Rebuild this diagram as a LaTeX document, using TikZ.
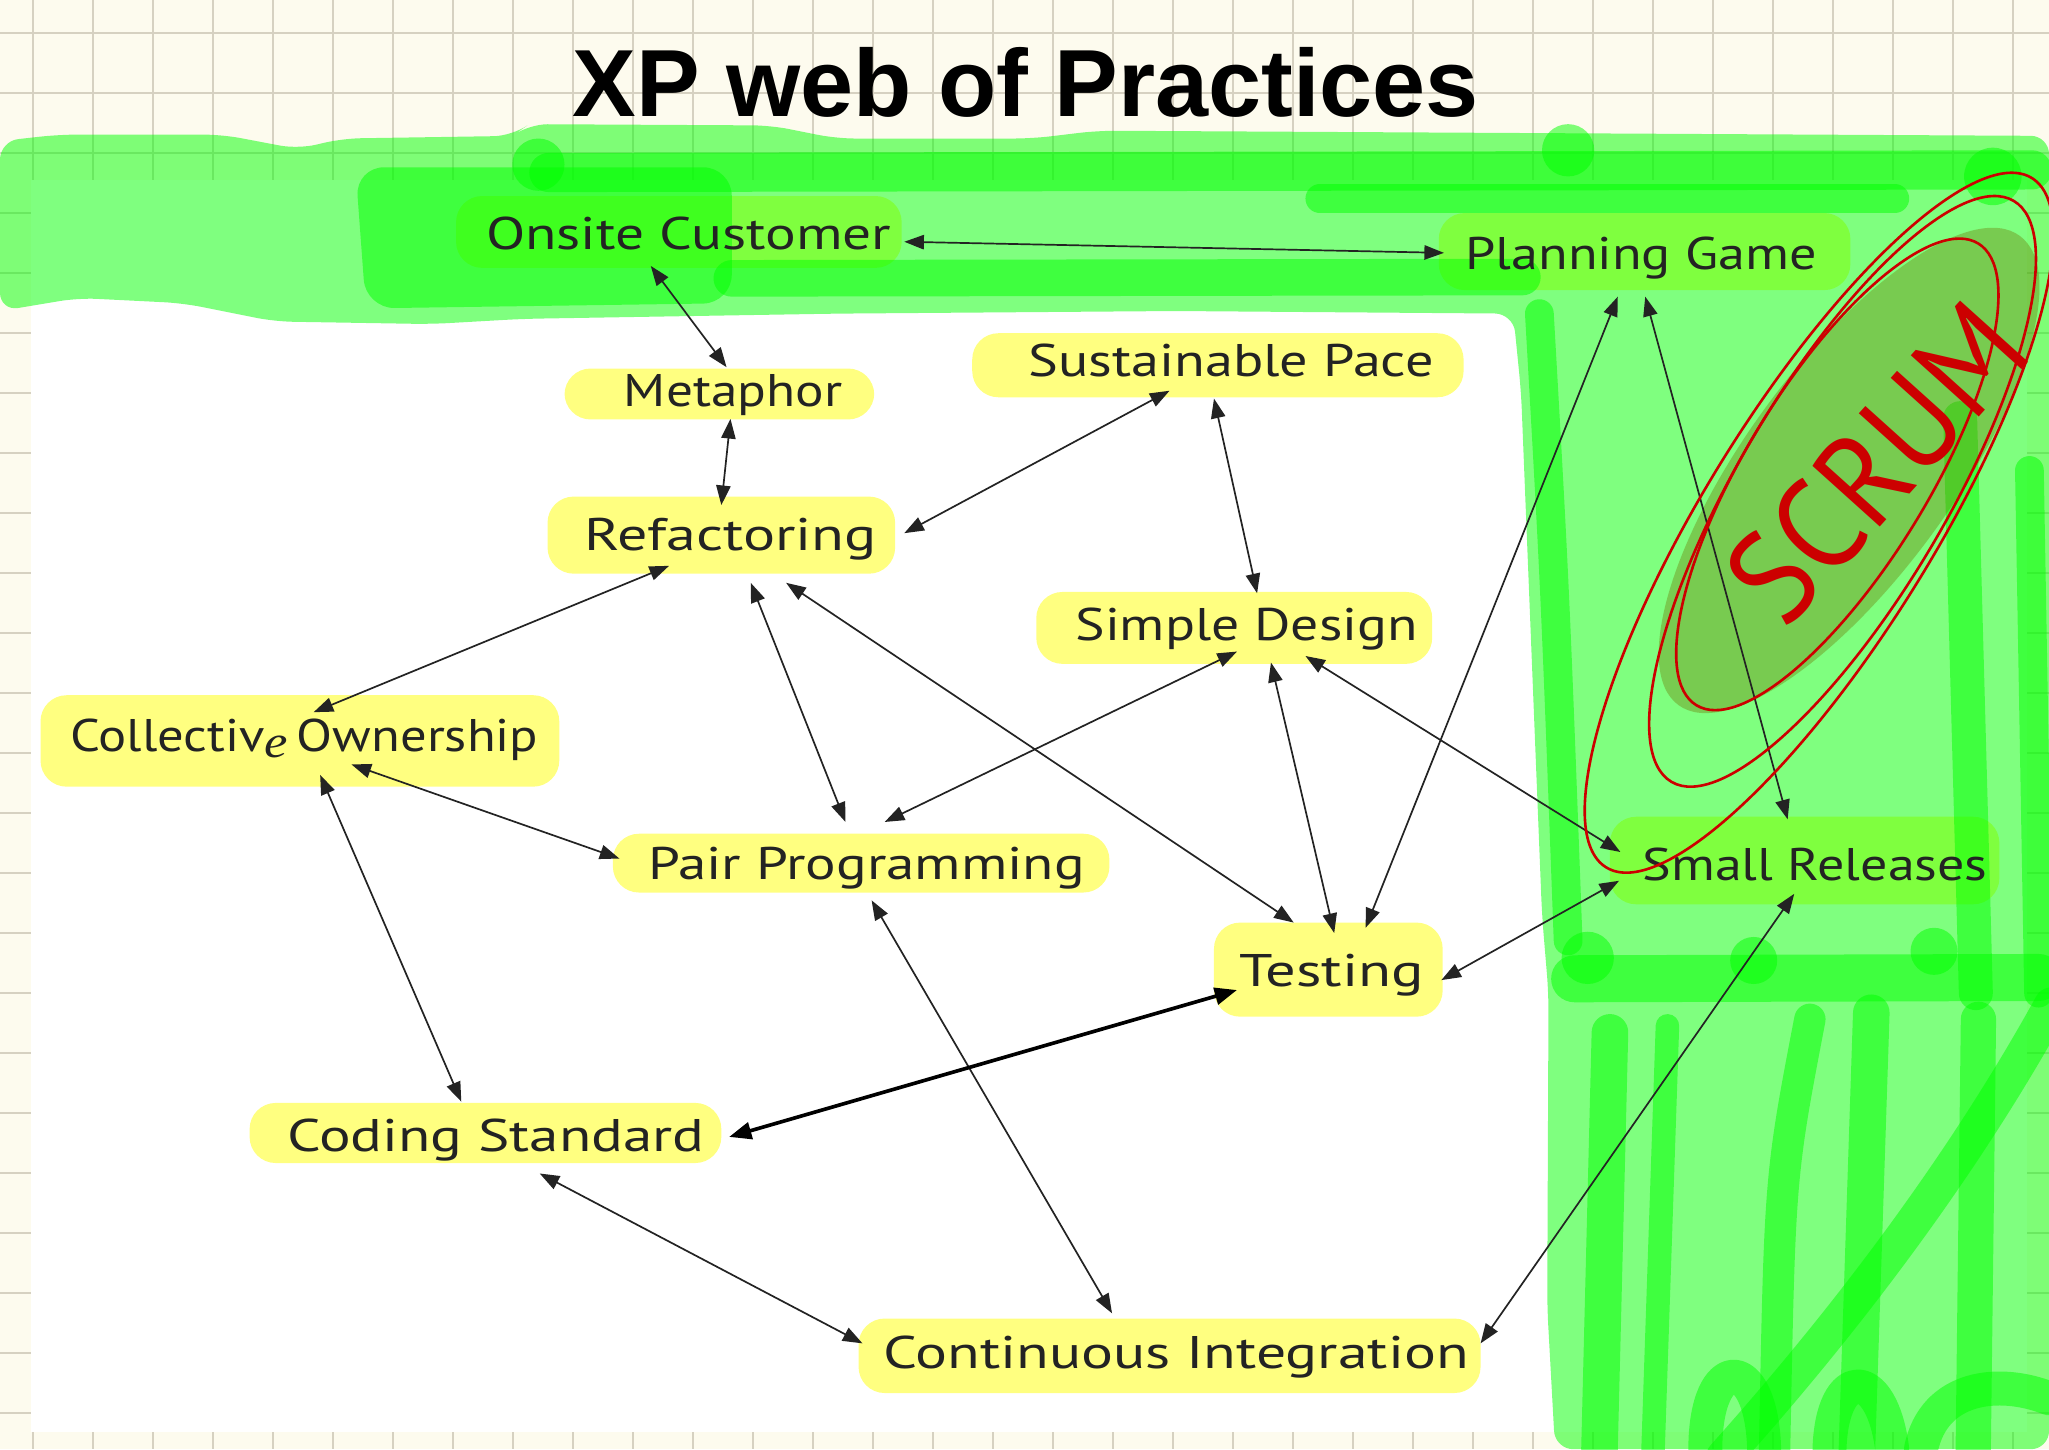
\documentclass[tikz,border=0pt]{standalone}
\usepackage{graphicx}
\usepackage{fontspec}
\setmainfont{Liberation Sans}
\newfontfamily\handfont{PT Sans}
\newfontfamily\efont{Liberation Serif}
\usetikzlibrary{arrows.meta,calc}
\definecolor{cream}{RGB}{253,251,238}
\definecolor{gridc}{RGB}{214,209,193}
\definecolor{hl}{RGB}{255,255,128}
\definecolor{gr}{RGB}{0,255,0}
\definecolor{olivefill}{RGB}{110,125,10}
\definecolor{scrumred}{RGB}{204,0,0}
\definecolor{ink}{RGB}{35,35,35}
\newcommand\fitw[2]{\resizebox{#1pt}{\height}{#2}}
\begin{document}
\begin{tikzpicture}[x=1pt,y=-1pt,
  lbl/.style={anchor=base, inner sep=0pt, font=\handfont\fontsize{35}{40}\selectfont, text=ink},
  hlbox/.style={fill=hl, rounded corners=20pt},
  gband/.style={draw=gr, opacity=0.5, line cap=round, line join=round},
  gfill/.style={fill=gr, opacity=0.5},
  arr/.style={draw=ink, line width=1.3pt, {Triangle[length=15pt,width=11pt]}-{Triangle[length=15pt,width=11pt]}},
  thickarr/.style={draw=black, line width=2.8pt, {Triangle[length=17pt,width=13pt]}-{Triangle[length=17pt,width=13pt]}},
  ring/.style={draw=scrumred, line width=2pt}]
\useasboundingbox (0,0) rectangle (1568,1109);
% paper
\fill[cream] (0,0) rectangle (1568,1109);
\foreach \i in {0,...,33} {\draw[gridc, line width=1.3pt] ({25.25+45.92*\i},0) -- ({25.25+45.92*\i},1109);}
\foreach \j in {0,...,23} {\draw[gridc, line width=1.3pt] (0,{25.25+45.92*\j}) -- (1568,{25.25+45.92*\j});}
\fill[white] (23.7,137.7) rectangle (1551,1096);
% yellow highlights
\fill[hlbox] (349,150) rectangle (690,205);
\fill[hlbox] (1101,163) rectangle (1416,222);
\fill[hlbox] (432,282) rectangle (669,321);
\fill[hlbox] (744,255) rectangle (1120,304);
\fill[hlbox] (419,380) rectangle (685,439);
\fill[hlbox] (793,453) rectangle (1096,508);
\fill[hlbox] (31,532) rectangle (428,602);
\fill[hlbox] (469,638) rectangle (849,683);
\fill[hlbox] (929,706) rectangle (1104,778);
\fill[hlbox] (191,844) rectangle (552,890);
\fill[hlbox] (657,1009) rectangle (1133,1066);
\fill[hlbox] (1232,625) rectangle (1530,692);
% green highlighter
\fill[gfill, rounded corners=14pt] (0,108) -- (45,103) -- (170,103) -- (228,114) -- (262,106) -- (392,104) -- (405,95) -- (590,96) -- (640,106) -- (790,106) -- (840,100) -- (1568,104) -- (1568,1109) -- (1190,1109) -- (1184,1000) -- (1185,760) -- (1180,700) -- (1172,500) -- (1164,300) -- (1158,240) -- (900,238) -- (640,240) -- (400,244) -- (330,248) -- (210,246) -- (140,232) -- (60,228) -- (0,238) -- cycle;
\fill[gfill, rounded corners=22pt] (272,128) -- (560,128) -- (560,232) -- (280,236) -- cycle;
\draw[gband, line width=30pt] (420,132) -- (1000,131) -- (1555,130);
\draw[gband, line width=28pt] (560,213) -- (1165,212);
\draw[gband, line width=22pt] (1010,152) -- (1450,152);
\fill[gfill] (412,126) circle (20pt);
\fill[gfill] (1200,115) circle (20pt);
\fill[gfill] (1525,135) circle (22pt);
\draw[gband, line width=22pt] (1178,240) .. controls (1190,450) .. (1200,720);
\draw[gband, line width=26pt] (1500,320) -- (1512,760);
\draw[gband, line width=22pt] (1553,360) -- (1560,760);
\draw[gband, line width=36pt] (1205,749) -- (1560,748);
\fill[gfill] (1215,733) circle (20pt);
\fill[gfill] (1342,735) circle (18pt);
\fill[gfill] (1480,728) circle (18pt);
\draw[gband, line width=28pt] (1232,790) -- (1224,1109);
\draw[gband, line width=18pt] (1276,785) -- (1265,1109);
\draw[gband, line width=24pt] (1385,780) .. controls (1362,900) .. (1358,1109);
\draw[gband, line width=28pt] (1432,775) -- (1421,1109);
\draw[gband, line width=27pt] (1514,780) -- (1510,1109);
\draw[gband, line width=27pt] (1319,1115) .. controls (1440,980) and (1520,860) .. (1570,769);
\draw[gband, line width=26pt] (1305,1109) .. controls (1305,1035) and (1348,1035) .. (1350,1109);
\draw[gband, line width=26pt] (1400,1109) .. controls (1402,1045) and (1440,1045) .. (1448,1109);
\draw[gband, line width=26pt] (1470,1109) .. controls (1480,1060) and (1530,1055) .. (1568,1070);
% scrum shading
\fill[olivefill, opacity=0.4, rotate around={54:(1415,360)}] (1415,360) ellipse [x radius=222pt, y radius=80pt];
% title
\node[anchor=base, inner sep=0pt, font=\bfseries\fontsize{73}{80}\selectfont] (title) at (785,89.5) {XP web of Practices};
% practices
\node[lbl] (oc)  at (527,191)  {\fitw{310}{Onsite Customer}};
\node[lbl] (pg)  at (1256,206) {\fitw{269}{Planning Game}};
\node[lbl] (met) at (561,311)  {\fitw{167}{Metaphor}};
\node[lbl] (sp)  at (942,288)  {\fitw{310}{Sustainable Pace}};
\node[lbl] (ref) at (559,421)  {\fitw{224}{Refactoring}};
\node[lbl] (sd)  at (954,490)  {\fitw{262}{Simple Design}};
\node[lbl] (co)  at (233,575)  {\fitw{358}{Collectiv\raisebox{-5pt}{\efont\itshape e}\,Ownership}};
\node[lbl] (pp)  at (663,673)  {\fitw{334}{Pair Programming}};
\node[lbl] (sr)  at (1389,674) {\fitw{264}{Small Releases}};
\node[lbl] (tst) at (1019,755) {\fitw{141}{Testing}};
\node[lbl] (cs)  at (379.5,881) {\fitw{319}{Coding Standard}};
\node[lbl] (ci)  at (900,1047) {\fitw{448}{Continuous Integration}};
% connectors
\draw[arr] ($(oc.base)+(165,-6)$) -- ($(pg.base)+(-151,-12.5)$);
\draw[arr] ($(oc.base)+(-29,12.5)$) -- ($(met.base)+(-5,-30)$);
\draw[arr] ($(met.base)+(-2,9.6)$) -- ($(ref.base)+(-7,-34.5)$);
\draw[arr] ($(sp.base)+(-47,11)$) -- ($(ref.base)+(133,-13)$);
\draw[arr] ($(sp.base)+(-13,17)$) -- ($(sd.base)+(8,-36)$);
\draw[arr] ($(ref.base)+(-47,12)$) -- ($(co.base)+(7,-30)$);
\draw[arr] ($(ref.base)+(15.5,25)$) -- ($(pp.base)+(-16,-44)$);
\draw[arr] ($(ref.base)+(42.6,25)$) -- ($(tst.base)+(-29,-49)$);
\draw[arr] ($(sd.base)+(-7.4,8.6)$) -- ($(pp.base)+(14,-44)$);
\draw[arr] ($(sd.base)+(18.6,17)$) -- ($(tst.base)+(2,-41)$);
\draw[arr] ($(sd.base)+(45,12)$) -- ($(sr.base)+(-149,-22)$);
\draw[arr] ($(pg.base)+(-18,21)$) -- ($(tst.base)+(26,-45)$);
\draw[arr] ($(pg.base)+(3,21)$) -- ($(sr.base)+(-21,-47)$);
\draw[arr] ($(co.base)+(12,18)$) -- ($(cs.base)+(-26.5,-38)$);
\draw[arr] ($(co.base)+(36,10)$) -- ($(pp.base)+(-189,-16)$);
\draw[arr] ($(pp.base)+(4,16)$) -- ($(ci.base)+(-49,-42)$);
\draw[thickarr] ($(tst.base)+(-72.4,2.6)$) -- ($(cs.base)+(178.5,-11)$);
\draw[arr] ($(tst.base)+(84,-5)$) -- ($(sr.base)+(-150,0)$);
\draw[arr] ($(cs.base)+(33.5,17)$) -- ($(ci.base)+(-240,-19)$);
\draw[arr] ($(sr.base)+(-16,10)$) -- ($(ci.base)+(233,-19)$);
% scrum rings and label
\draw[ring, rotate around={58.3:(1392,400)}] (1392,400) ellipse [x radius=310pt, y radius=88pt];
\draw[ring, rotate around={59.5:(1410,376)}] (1410,376) ellipse [x radius=258pt, y radius=80pt];
\draw[ring, rotate around={58.6:(1406,363)}] (1406,363) ellipse [x radius=207pt, y radius=70pt];
\node[text=scrumred, rotate=48, inner sep=0pt, font=\handfont\fontsize{100}{100}\selectfont] (scrum) at (1436,354) {\resizebox{285pt}{\height}{SCRUM}};
\end{tikzpicture}
\end{document}
